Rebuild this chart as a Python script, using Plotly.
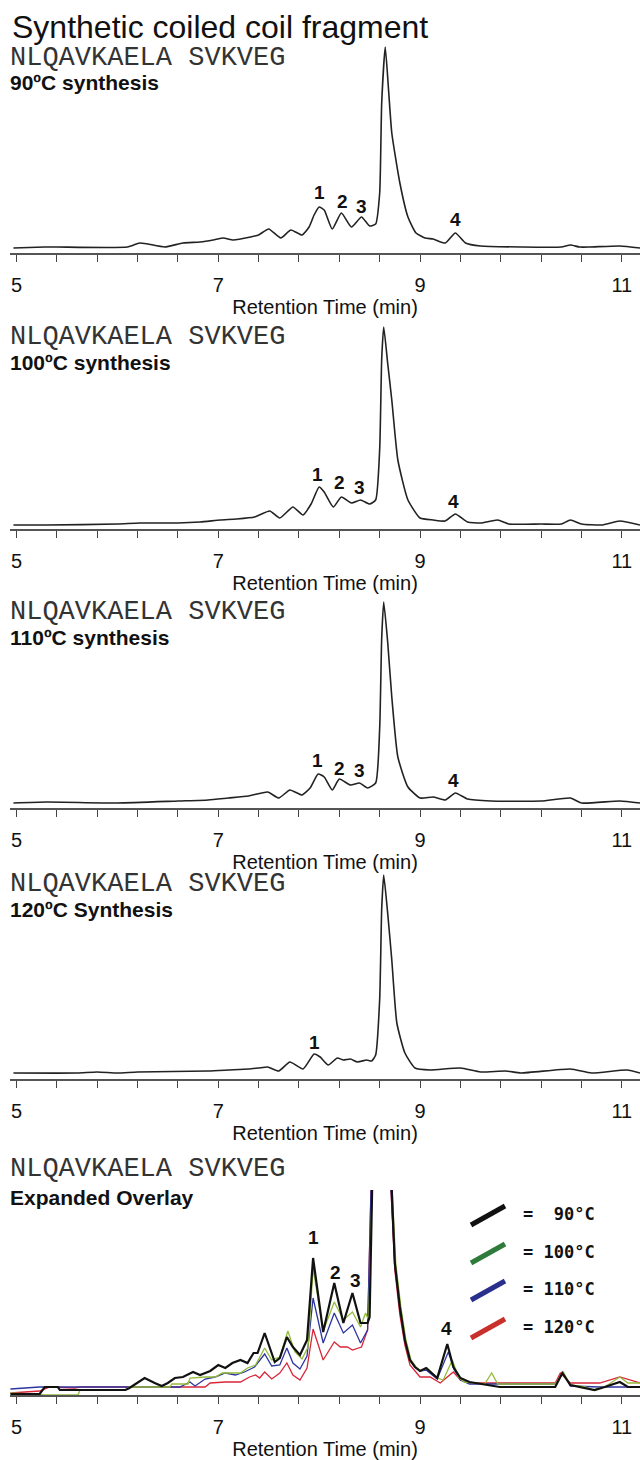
import plotly.graph_objects as go

# ---------------- data (retention time in min, signal in arbitrary units) ----------------
x90 = [4.97, 5.28, 5.4, 6.1, 6.22, 6.3, 6.47, 6.65, 6.82, 6.95, 7.05, 7.15, 7.32, 7.4, 7.5, 7.62, 7.72, 7.83,
       7.9, 7.95, 8.0, 8.05, 8.13, 8.22, 8.32, 8.42, 8.5, 8.56, 8.6, 8.62, 8.655, 8.69, 8.72, 8.8, 8.88, 8.96,
       9.05, 9.13, 9.25, 9.35, 9.45, 9.6, 10.0, 10.4, 10.49, 10.58, 10.68, 10.98, 11.18]
y90 = [5, 6, 6, 6, 10, 9, 6, 10, 11, 13, 15, 13, 16, 18, 24, 15, 23, 18,
       26, 38, 46, 43, 24, 40, 26, 36, 27, 29, 60, 150, 206, 160, 120, 70, 36, 20,
       15, 14, 10, 20, 10, 7, 6, 6, 8, 6, 6, 7, 5]

x100 = [4.97, 5.3, 6.0, 6.22, 6.6, 6.82, 7.02, 7.18, 7.36, 7.51, 7.61, 7.74, 7.84, 7.92, 8.0, 8.05, 8.14, 8.22,
        8.32, 8.41, 8.5, 8.56, 8.6, 8.62, 8.64, 8.68, 8.72, 8.78, 8.88, 9.0, 9.13, 9.25, 9.35, 9.47, 9.6, 9.77,
        9.88, 10.2, 10.4, 10.49, 10.6, 10.8, 10.98, 11.18]
y100 = [4, 4, 5, 6, 6, 7, 9, 10, 12, 18, 11, 22, 14, 25, 42, 37, 22, 32,
        26, 29, 25, 29, 80, 170, 202, 165, 129, 69, 29, 11, 9, 8, 15, 7, 6, 9,
        5, 5, 5, 9, 5, 4, 8, 4]

x110 = [4.97, 5.3, 6.0, 6.6, 6.9, 7.1, 7.3, 7.49, 7.6, 7.71, 7.83, 7.91, 7.99, 8.05, 8.13, 8.2, 8.31, 8.4,
        8.48, 8.56, 8.6, 8.62, 8.64, 8.68, 8.72, 8.78, 8.88, 9.0, 9.13, 9.25, 9.35, 9.47, 9.7, 10.2, 10.49,
        10.6, 10.98, 11.18]
y110 = [5, 6, 5, 7, 8, 10, 12, 16, 10, 18, 13, 20, 34, 31, 18, 29, 23, 25,
        20, 25, 80, 170, 206, 165, 111, 51, 21, 10, 11, 8, 15, 9, 7, 7, 10,
        5, 7, 5]

x120 = [4.97, 5.6, 5.8, 6.0, 6.2, 6.9, 7.1, 7.3, 7.4, 7.49, 7.6, 7.71, 7.84, 7.95, 8.01, 8.09, 8.18, 8.24,
        8.31, 8.38, 8.47, 8.52, 8.56, 8.6, 8.62, 8.64, 8.68, 8.72, 8.77, 8.85, 8.95, 9.1, 9.4, 9.6, 9.85,
        10.0, 10.49, 10.7, 11.05, 11.18]
y120 = [6, 6, 7, 6, 7, 8, 9, 10, 11, 12, 8, 17, 10, 25, 22, 14, 21, 19,
        20, 17, 19, 18, 24, 80, 170, 204, 165, 119, 56, 26, 11, 9, 11, 7, 8,
        6, 10, 6, 9, 6]

# expanded overlay (main peak runs off scale)
ox90 = [4.94, 5.23, 5.28, 5.41, 5.43, 6.08, 6.12, 6.27, 6.37, 6.44, 6.50, 6.57, 6.65, 6.75, 6.82, 6.92, 7.00,
        7.07, 7.14, 7.22, 7.29, 7.35, 7.39, 7.46, 7.56, 7.61, 7.68, 7.74, 7.81, 7.88, 7.94, 8.04, 8.15, 8.24,
        8.33, 8.41, 8.48, 8.50, 8.53, 8.62, 8.71, 8.75, 8.80, 8.85, 8.90, 8.95, 9.00, 9.06, 9.17, 9.27, 9.33,
        9.40, 9.49, 9.76, 9.79, 10.34, 10.41, 10.49, 10.64, 10.73, 10.83, 10.98, 11.06, 11.18]
oy90 = [1, 1, 8, 8, 5, 5, 7, 17, 12, 9, 12, 17, 18, 23, 20, 24, 30,
        27, 32, 35, 32, 42, 42, 62, 33, 37, 58, 48, 40, 55, 137, 63, 112, 72,
        102, 72, 72, 78, 230, 600, 230, 132, 88, 55, 35, 28, 24, 27, 17, 51, 28,
        17, 13, 9, 8, 8, 22, 10, 7, 5, 8, 13, 8, 8]

ox100 = [4.94, 5.28, 5.61, 5.63, 6.08, 6.12, 6.52, 6.54, 6.70, 6.72, 6.87, 6.97, 7.04, 7.22, 7.29, 7.37, 7.46,
         7.53, 7.61, 7.69, 7.76, 7.83, 7.89, 7.94, 8.04, 8.15, 8.24, 8.33, 8.41, 8.46, 8.49, 8.53, 8.63, 8.71,
         8.76, 8.81, 8.86, 8.91, 8.96, 9.01, 9.07, 9.17, 9.23, 9.32, 9.38, 9.44, 9.64, 9.71, 9.77, 10.34, 10.42,
         10.49, 10.64, 10.71, 10.83, 10.98, 11.06, 11.18]
oy100 = [2, 0, 0, 5, 5, 8, 8, 11, 11, 17, 18, 18, 22, 22, 27, 30, 47,
         35, 38, 64, 43, 36, 48, 127, 64, 93, 75, 83, 68, 82, 75, 230, 600, 230,
         131, 88, 55, 35, 28, 24, 27, 17, 15, 35, 18, 13, 11, 22, 11, 11, 23,
         10, 8, 5, 8, 18, 12, 12]

ox110 = [4.94, 5.23, 6.12, 6.37, 6.62, 6.72, 6.77, 6.87, 6.97, 7.07, 7.17, 7.26, 7.36, 7.46, 7.53, 7.61, 7.68,
         7.74, 7.81, 7.88, 7.94, 8.04, 8.15, 8.24, 8.33, 8.41, 8.48, 8.52, 8.62, 8.70, 8.75, 8.80, 8.85, 8.90,
         8.95, 9.00, 9.06, 9.17, 9.28, 9.34, 9.40, 9.49, 10.34, 10.42, 10.49, 10.78, 11.18]
oy110 = [6, 8, 8, 8, 8, 13, 9, 16, 18, 22, 20, 23, 28, 41, 29, 30, 47,
         32, 26, 39, 97, 52, 82, 62, 70, 52, 65, 230, 600, 230, 131, 88, 55, 35,
         28, 24, 25, 16, 43, 25, 15, 11, 11, 22, 9, 8, 8]

ox120 = [4.94, 5.23, 5.33, 5.58, 5.63, 6.67, 6.87, 6.92, 7.07, 7.22, 7.31, 7.37, 7.41, 7.46, 7.53, 7.61, 7.68,
         7.74, 7.81, 7.88, 7.94, 8.04, 8.15, 8.21, 8.28, 8.33, 8.42, 8.48, 8.52, 8.62, 8.70, 8.75, 8.80, 8.85,
         8.90, 9.00, 9.10, 9.20, 9.33, 9.40, 9.49, 10.34, 10.39, 10.49, 10.78, 10.98, 11.13, 11.18]
oy120 = [2, 4, 8, 7, 8, 8, 8, 12, 13, 13, 18, 20, 17, 23, 16, 22, 32,
         20, 15, 27, 66, 35, 53, 48, 48, 45, 48, 65, 230, 600, 230, 125, 80, 50,
         30, 18, 18, 12, 23, 15, 12, 12, 22, 12, 12, 18, 13, 12]

tick_vals = [5, 5.4, 5.8, 6.2, 6.6, 7, 7.4, 7.8, 8.2, 8.6, 9, 9.4, 9.8, 10.2, 10.6, 11]
tick_text = ["5", "", "", "", "", "7", "", "", "", "", "9", "", "", "", "", "11"]

sequence = "NLQAVKAELA SVKVEG"
panel_labels = ["90ºC synthesis", "100ºC synthesis", "110ºC synthesis", "120ºC Synthesis", "Expanded Overlay"]
legend_labels = ["=  90°C", "= 100°C", "= 110°C", "= 120°C"]

peak_names = [["1", "2", "3", "4"], ["1", "2", "3", "4"], ["1", "2", "3", "4"], ["1"], ["1", "2", "3", "4"]]
peak_x = [[8.0, 8.23, 8.42, 9.35], [7.98, 8.2, 8.4, 9.33], [7.98, 8.2, 8.4, 9.33], [7.95], [7.94, 8.16, 8.36, 9.26]]
peak_y = [[60, 51, 46, 33], [54, 46, 41, 27], [48, 40, 38, 28], [37], [158, 123, 115, 67]]

# ---------------- layout helpers ----------------
W, H = 640, 1460
def py(p):
    return 1 - p / H

# (axis line px, top px, y max)
panels = [(253, 43, 210), (529, 319, 210), (808, 598, 210), (1079, 869, 210), (1395, 1190, 205)]
text_pos = [(58, 83), (337, 362), (612, 637), (884, 909), (1169, 1197)]

SANS = "Liberation Sans, Arial, sans-serif"
MONO = "Liberation Mono, Courier New, monospace"

fig = go.Figure()

single = [(x90, y90), (x100, y100), (x110, y110), (x120, y120)]
for i, (xs, ys) in enumerate(single):
    k = "" if i == 0 else str(i + 1)
    fig.add_trace(go.Scatter(x=xs, y=ys, mode="lines", xaxis="x" + k, yaxis="y" + k,
                             line=dict(color="#222222", width=1.6, shape="spline", smoothing=0.5),
                             showlegend=False, hoverinfo="skip"))

overlay = [(ox120, oy120, "#d8263a", 1.3), (ox110, oy110, "#2d36a0", 1.3),
           (ox100, oy100, "#93bb3a", 1.3), (ox90, oy90, "#111111", 2.2)]
for xs, ys, c, w in overlay:
    fig.add_trace(go.Scatter(x=xs, y=ys, mode="lines", xaxis="x5", yaxis="y5",
                             line=dict(color=c, width=w), showlegend=False, hoverinfo="skip"))

layout = dict(width=W, height=H, margin=dict(l=0, r=0, t=0, b=0),
              paper_bgcolor="white", plot_bgcolor="white", showlegend=False)

for i, (ax_px, top_px, ymax) in enumerate(panels):
    k = "" if i == 0 else str(i + 1)
    layout["xaxis" + k] = dict(domain=[10 / W, 1], anchor="y" + k, range=[4.936, 11.18],
                               showline=True, linecolor="#555555", linewidth=1.5,
                               ticks="outside", ticklen=7, tickwidth=1.2, tickcolor="#444444",
                               tickmode="array", tickvals=tick_vals, ticktext=tick_text,
                               tickfont=dict(family=SANS, size=20, color="#111111"),
                               ticklabelstandoff=6,
                               showgrid=False, zeroline=False,
                               title=dict(text="Retention Time (min)", standoff=2,
                                          font=dict(family=SANS, size=20, color="#111111")))
    layout["yaxis" + k] = dict(domain=[py(ax_px), py(top_px)], anchor="x" + k, range=[0, ymax],
                               visible=False, showgrid=False, zeroline=False)

annotations = []
annotations.append(dict(text="Synthetic coiled coil fragment", xref="paper", yref="paper",
                        x=10 / W, y=py(27), xanchor="left", yanchor="middle", showarrow=False,
                        font=dict(family=SANS, size=32, color="#111111")))
for i, (sp, lp) in enumerate(text_pos):
    annotations.append(dict(text=sequence, xref="paper", yref="paper", x=8 / W, y=py(sp),
                            xanchor="left", yanchor="middle", showarrow=False,
                            font=dict(family=MONO, size=27, color="#333333")))
    annotations.append(dict(text="<b>" + panel_labels[i] + "</b>", xref="paper", yref="paper",
                            x=8 / W, y=py(lp), xanchor="left", yanchor="middle", showarrow=False,
                            font=dict(family=SANS, size=21, color="#111111")))
for i in range(5):
    k = "" if i == 0 else str(i + 1)
    for n, xv, yv in zip(peak_names[i], peak_x[i], peak_y[i]):
        annotations.append(dict(text="<b>" + n + "</b>", xref="x" + k, yref="y" + k, x=xv, y=yv,
                                xanchor="center", yanchor="middle", showarrow=False,
                                font=dict(family=SANS, size=19, color="#111111")))

legend_colors = ["#111111", "#2e7b3b", "#28308c", "#c9302c"]
legend_text_y = [1214, 1252, 1289, 1327]
shapes = []
for c, ty, lab in zip(legend_colors, legend_text_y, legend_labels):
    shapes.append(dict(type="line", xref="paper", yref="paper",
                       x0=471 / W, y0=py(ty + 11), x1=505 / W, y1=py(ty - 8),
                       line=dict(color=c, width=5)))
    annotations.append(dict(text="<b>" + lab + "</b>", xref="paper", yref="paper",
                            x=521 / W, y=py(ty), xanchor="left", yanchor="middle", showarrow=False,
                            font=dict(family="DejaVu Sans Mono, monospace", size=17, color="#111111")))

layout["annotations"] = annotations
layout["shapes"] = shapes
fig.update_layout(**layout)
fig.write_html("out.html")
